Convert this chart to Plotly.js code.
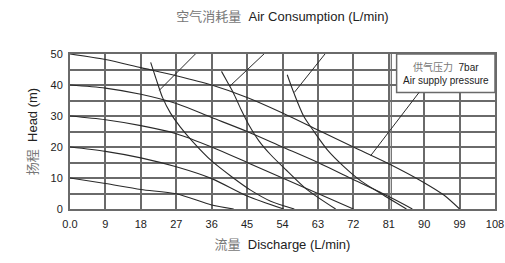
<!DOCTYPE html>
<html>
<head>
<meta charset="utf-8">
<script src="https://cdn.plot.ly/plotly-3.0.1.min.js"></script>
<style>html,body{margin:0;padding:0;background:#fff;}#chart{width:505px;height:263px;}</style>
</head>
<body>
<div id="chart"></div>
<script>
// Pump performance curves (head vs discharge) for different air supply pressures
const curve50X = [0, 9, 18, 27, 36, 45, 54, 63, 72, 81, 90, 95, 99];
const curve50Y = [50, 48.2, 45.6, 43, 40, 36, 31, 25.5, 20, 14.6, 8.5, 4.5, 0];
const curve40X = [0, 9, 18, 27, 36, 45, 54, 63, 72, 81, 87];
const curve40Y = [40, 39, 37, 34, 29.5, 25, 20, 15, 9.5, 4, 0];
const curve30X = [0, 9, 18, 27, 36, 45, 54, 63, 72];
const curve30Y = [30, 28.8, 26.9, 24.3, 20, 15, 10, 5, 0];
const curve20X = [0, 9, 18, 27, 36, 45, 54.3];
const curve20Y = [20, 18.6, 16.5, 13.6, 9.8, 4.2, 0];
const curve10X = [0, 9, 18, 27, 36, 41.6];
const curve10Y = [10, 8.2, 6.3, 4.9, 1.3, 0];

// Air consumption curves (L/min)
const air400X = [20.5, 22, 23.5, 25.5, 28, 31, 36, 41, 46, 51, 57];
const air400Y = [47.3, 41.5, 36, 31, 26.5, 22, 15.5, 10.5, 6, 2.5, 0];
const air500X = [38.5, 40, 41.5, 43.5, 45.5, 48, 51, 55, 60, 67.5];
const air500Y = [44.4, 41, 37.5, 32, 27, 22, 17.5, 12.5, 6.5, 0];
const air700X = [55.2, 56.9, 59.4, 62, 65.4, 69.6, 74, 79, 85.5];
const air700Y = [43.3, 37.4, 29.9, 25, 19.1, 13.7, 9, 5, 0];

const airLabels = ['400', '500', '700'];

const xTicks = [0, 9, 18, 27, 36, 45, 54, 63, 72, 81, 90, 99, 108];
const xTickText = ['0.0', '9', '18', '27', '36', '45', '54', '63', '72', '81', '90', '99', '108'];
const yTicks = [0, 5, 10, 15, 20, 25, 30, 35, 40, 45, 50];
const yTickText = ['0', '', '10', '', '20', '', '30', '', '40', '', '50'];

const GRID = '#6a6a6a';
const CURVE = '#2a2a2a';
const FONT = 'Liberation Sans, Arial, "Noto Sans CJK SC", sans-serif';

function curve(x, y) {
  return {x: x, y: y, type: 'scatter', mode: 'lines',
    line: {color: CURVE, width: 1.1, shape: 'spline', smoothing: 0.8},
    hoverinfo: 'skip', showlegend: false};
}

const data = [
  curve(curve50X, curve50Y), curve(curve40X, curve40Y), curve(curve30X, curve30Y),
  curve(curve20X, curve20Y), curve(curve10X, curve10Y),
  curve(air400X, air400Y), curve(air500X, air500Y), curve(air700X, air700Y)
];

// label placement (annotation geometry, data units)
const lblLeftX = [34.6, 52.2, 67.0];
const lblRightX = [40.8, 57.7, 73.4];
const lblY = 53.5;
const lblTipX = [22.7, 40.6, 57.0];
const lblTipY = [38.3, 39.6, 37.6];

const shapes = [];
const annotations = [];
for (let i = 0; i < airLabels.length; i++) {
  shapes.push({type: 'path', xref: 'x', yref: 'y', layer: 'above',
    path: `M${lblTipX[i]},${lblTipY[i]} L${lblLeftX[i]},${lblY} L${lblRightX[i]},${lblY}`,
    line: {color: CURVE, width: 1}});
  annotations.push({xref: 'x', yref: 'y', x: (lblLeftX[i] + lblRightX[i]) / 2, y: lblY,
    yanchor: 'bottom', text: airLabels[i], showarrow: false,
    font: {family: FONT, size: 12, color: '#222'}});
}
// extra vertical line next to 81
shapes.push({type: 'line', xref: 'x', yref: 'y', x0: 81.65, x1: 81.65, y0: 0, y1: 50, layer: 'below',
  line: {color: GRID, width: 1.2}});
// pressure box
shapes.push({type: 'rect', xref: 'x', yref: 'y', x0: 83, x1: 108, y0: 37.6, y1: 50, layer: 'above',
  fillcolor: '#fff', line: {color: GRID, width: 1.5}});
shapes.push({type: 'line', xref: 'x', yref: 'y', x0: 88.7, y0: 37.6, x1: 76.4, y1: 17.2, layer: 'above',
  line: {color: CURVE, width: 1}});
annotations.push({xref: 'x', yref: 'y', x: 95.5, y: 43.8, showarrow: false,
  text: '<span style="color:#777">供气压力</span>  7bar<br>Air supply pressure',
  font: {family: FONT, size: 10, color: '#222'}, align: 'center'});

const layout = {
  width: 505, height: 263,
  margin: {l: 70, r: 10, t: 54, b: 54, pad: 0},
  paper_bgcolor: '#fff', plot_bgcolor: '#fff',
  font: {family: FONT, size: 11, color: '#222'},
  title: {text: '<span style="color:#777">空气消耗量</span>  Air Consumption (L/min)',
    x: 0.5, xref: 'paper', xanchor: 'center', y: 0.937, yref: 'container', yanchor: 'middle',
    font: {family: FONT, size: 13, color: '#222'}},
  xaxis: {range: [0, 108], tickvals: xTicks, ticktext: xTickText,
    showgrid: true, gridcolor: GRID, gridwidth: 2, zeroline: false,
    showline: true, mirror: true, linecolor: GRID, linewidth: 2,
    ticks: 'outside', ticklen: 4, tickcolor: 'rgba(0,0,0,0)',
    tickfont: {family: FONT, size: 11, color: '#222'},
    title: {text: '<span style="color:#777">流量</span>  Discharge (L/min)', standoff: 11,
      font: {family: FONT, size: 13, color: '#222'}}},
  yaxis: {range: [0, 50], tickvals: yTicks, ticktext: yTickText,
    showgrid: true, gridcolor: GRID, gridwidth: 2, zeroline: false,
    showline: true, mirror: true, linecolor: GRID, linewidth: 2,
    ticks: 'outside', ticklen: 3, tickcolor: 'rgba(0,0,0,0)',
    tickfont: {family: FONT, size: 11, color: '#222'},
    title: {text: '<span style="color:#777">扬程</span>  Head (m)', standoff: 10,
      font: {family: FONT, size: 13, color: '#222'}}},
  shapes: shapes,
  annotations: annotations,
  showlegend: false
};

Plotly.newPlot('chart', data, layout, {staticPlot: true, displayModeBar: false});
</script>
</body>
</html>
